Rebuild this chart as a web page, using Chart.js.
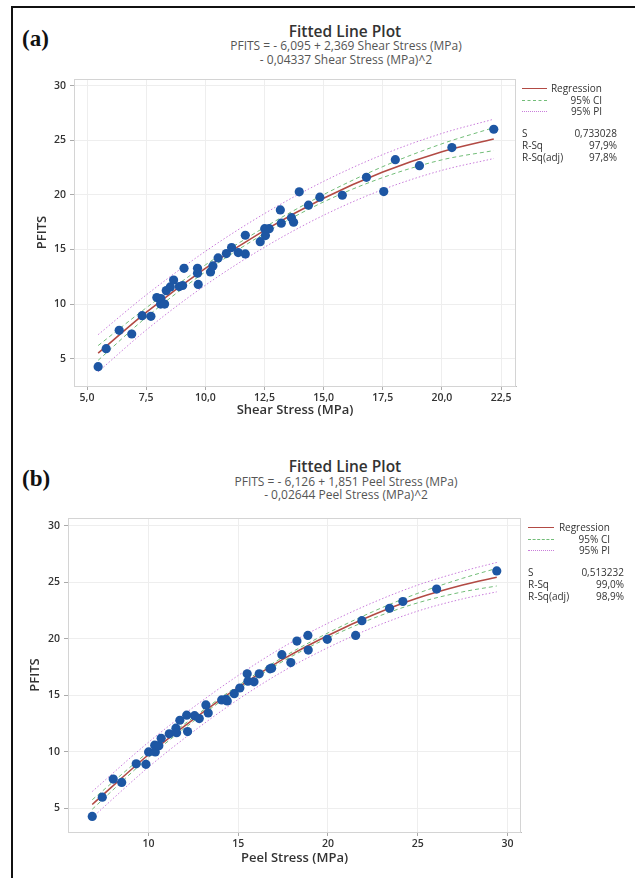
<!DOCTYPE html>
<html>
<head>
<meta charset="utf-8">
<script src="https://cdn.jsdelivr.net/npm/chart.js@4.4.1/dist/chart.umd.min.js"></script>
<style>
  body { margin: 0; background: #fff; font-family: 'Open Sans', sans-serif; }
  #page { position: relative; width: 635px; height: 878px; overflow: hidden; }
  canvas { position: absolute; left: 0; }
  .frame { position: absolute; background: #111; }
  .tag { position: absolute; left: 22px; font: bold 23px 'Liberation Serif', serif; line-height: 1; color: #111; }
  .ttl { position: absolute; width: 400px; text-align: center; color: #333; line-height: 1; white-space: nowrap; }
  .ttl.main { font-size: 15.5px; font-weight: 600; }
  .ttl.sub { font-size: 12px; color: #555; }
  .lg { position: absolute; font-size: 10px; color: #333; line-height: 1; }
  .lg .row { position: absolute; height: 12px; white-space: nowrap; }
  .lg .smp { position: absolute; top: 5px; width: 26px; height: 0; }
  .lg .txt { position: absolute; right: 0; top: 0; }
  .lg .lbl { position: absolute; left: 0; top: 0; }
</style>
</head>
<body>
<div id="page">
  <div class="frame" style="left:11px;top:6px;width:624px;height:1.5px"></div>
  <div class="frame" style="left:11px;top:6px;width:1.5px;height:872px"></div>

  <div class="tag" style="top:27px">(a)</div>
  <div class="ttl main" style="left:145px;top:24px">Fitted Line Plot</div>
  <div class="ttl sub" style="left:146px;top:40px">PFITS = - 6,095 + 2,369 Shear Stress (MPa)</div>
  <div class="ttl sub" style="left:146px;top:54px">- 0,04337 Shear Stress (MPa)^2</div>
  <canvas id="chartA" width="635" height="430" style="top:0"></canvas>
  <div id="legendA"></div>

  <div class="tag" style="top:467px">(b)</div>
  <div class="ttl main" style="left:145px;top:459px">Fitted Line Plot</div>
  <div class="ttl sub" style="left:146px;top:476px">PFITS = - 6,126 + 1,851 Peel Stress (MPa)</div>
  <div class="ttl sub" style="left:146px;top:489px">- 0,02644 Peel Stress (MPa)^2</div>
  <canvas id="chartB" width="635" height="438" style="top:440px"></canvas>
  <div id="legendB"></div>
</div>

<script>
// (a) Shear stress vs PFITS - observations
const shearX = [5.47, 5.81, 6.36, 6.89, 7.33, 7.70, 7.95, 8.12, 8.11, 8.28, 8.35, 8.52, 8.66, 8.90, 9.04,
    9.10, 9.67, 9.67, 9.70, 10.22, 10.32, 10.54, 10.89, 11.11, 11.39, 11.69, 11.69, 12.32, 12.51, 12.54,
    12.70, 13.17, 13.21, 13.64, 13.73, 13.97, 14.36, 14.84, 15.79, 16.81, 17.54, 18.03, 19.05, 20.42, 22.19];
const shearPfits = [4.27, 5.92, 7.60, 7.26, 8.94, 8.88, 10.59, 10.50, 10.00, 10.00, 11.23, 11.57, 12.20, 11.60, 11.70,
    13.27, 13.27, 12.82, 11.80, 12.94, 13.49, 14.22, 14.62, 15.17, 14.71, 14.59, 16.30, 15.71, 16.90, 16.27,
    16.90, 18.62, 17.40, 17.91, 17.49, 20.27, 19.05, 19.78, 19.96, 21.60, 20.30, 23.22, 22.67, 24.32, 26.00];

// (a) fitted curve and bands
const shearFitX = [5.47, 7.5, 10, 12.5, 15, 17.5, 20, 22.19];
const shearFit  = [5.50, 9.23, 13.26, 16.74, 19.68, 22.08, 23.94, 25.11];
const shearCiUp = [6.20, 9.65, 13.58, 17.02, 20.02, 22.58, 24.67, 26.15];
const shearCiLo = [4.85, 8.78, 12.95, 16.46, 19.35, 21.58, 23.20, 24.05];
const shearPiUp = [7.20, 10.83, 14.82, 18.28, 21.23, 23.68, 25.62, 26.92];
const shearPiLo = [3.80, 7.62, 11.72, 15.20, 18.13, 20.48, 22.24, 23.32];

// (b) Peel stress vs PFITS - observations
const peelX = [6.87, 7.43, 8.04, 8.51, 9.32, 9.86, 10.01, 10.35, 10.38, 10.58, 10.71, 11.16, 11.53, 11.57, 11.75,
    12.13, 12.18, 12.57, 12.83, 13.20, 13.33, 14.08, 14.32, 14.39, 14.78, 15.09, 15.50, 15.54, 15.88, 16.17,
    16.77, 16.86, 17.43, 17.93, 18.27, 18.88, 18.90, 19.96, 21.54, 21.89, 23.43, 24.17, 26.05, 29.40];
const peelPfits = [4.30, 6.00, 7.60, 7.30, 8.95, 8.90, 10.00, 10.60, 10.00, 10.55, 11.20, 11.60, 12.10, 11.70, 12.80,
    13.25, 11.80, 13.20, 12.95, 14.15, 13.45, 14.60, 14.65, 14.50, 15.15, 15.65, 16.90, 16.25, 16.20, 16.90,
    17.35, 17.40, 18.60, 17.90, 19.80, 20.30, 19.00, 19.95, 20.30, 21.60, 22.70, 23.30, 24.40, 26.00];

// (b) fitted curve and bands
const peelFitX = [6.87, 10, 12.5, 15, 17.5, 20, 22.5, 25, 27.5, 29.4];
const peelFit  = [5.35, 9.75, 12.87, 15.70, 18.20, 20.30, 22.10, 23.60, 24.75, 25.45];
const peelCiUp = [5.77, 10.00, 13.05, 15.86, 18.38, 20.52, 22.40, 24.02, 25.35, 26.23];
const peelCiLo = [4.93, 9.50, 12.69, 15.54, 18.02, 20.08, 21.80, 23.18, 24.15, 24.67];
const peelPiUp = [6.50, 10.85, 13.94, 16.76, 19.27, 21.38, 23.20, 24.75, 25.97, 26.75];
const peelPiLo = [4.20, 8.65, 11.80, 14.64, 17.13, 19.22, 21.00, 22.45, 23.53, 24.15];

// ticks
const pfitsTicks = [5, 10, 15, 20, 25, 30];
const shearTicks = [5, 7.5, 10, 12.5, 15, 17.5, 20, 22.5];
const shearTickLabels = ['5,0', '7,5', '10,0', '12,5', '15,0', '17,5', '20,0', '22,5'];
const peelTicks = [10, 15, 20, 25, 30];
const peelTickLabels = ['10', '15', '20', '25', '30'];

const legendNames = ['Regression', '95% CI', '95% PI'];
const statNames = ['S', 'R-Sq', 'R-Sq(adj)'];
const shearStats = ['0,733028', '97,9%', '97,8%'];
const peelStats = ['0,513232', '99,0%', '98,9%'];

const pointBlue = '#1d56a3';
const fitRed = '#b24a44';
const ciGreen = '#72bd78';
const piPurple = '#c97ddb';

function pairs(xs, ys) {
    return xs.map((x, i) => ({ x: x, y: ys[i] }));
}

// light frame round the data region
const frameBox = {
    id: 'frameBox',
    afterDraw(chart) {
        const a = chart.chartArea, ctx = chart.ctx;
        ctx.save();
        ctx.strokeStyle = '#d4d4d4';
        ctx.lineWidth = 1;
        ctx.strokeRect(a.left + 0.5, a.top + 0.5, a.right - a.left - 1, a.bottom - a.top);
        ctx.restore();
    }
};

function makeChart(id, o) {
    const line = (ys, color, width, dash) => ({
        data: pairs(o.fitX, ys), showLine: true, pointRadius: 0, borderColor: color,
        borderWidth: width, borderDash: dash, cubicInterpolationMode: 'monotone', order: 2
    });
    return new Chart(document.getElementById(id), {
        type: 'scatter',
        data: {
            datasets: [
                { data: pairs(o.x, o.y), pointRadius: 4.6, pointBackgroundColor: pointBlue,
                  pointBorderColor: pointBlue, pointBorderWidth: 0, order: 1 },
                line(o.piUp, piPurple, 1, [1.5, 2]),
                line(o.piLo, piPurple, 1, [1.5, 2]),
                line(o.ciUp, ciGreen, 1, [4, 3]),
                line(o.ciLo, ciGreen, 1, [4, 3]),
                line(o.fit, fitRed, 1.6, [])
            ]
        },
        options: {
            responsive: false,
            animation: false,
            devicePixelRatio: 1,
            layout: { padding: o.padding },
            plugins: { legend: { display: false }, tooltip: { enabled: false } },
            scales: {
                x: {
                    type: 'linear', min: o.xMin, max: o.xMax,
                    afterBuildTicks: s => { s.ticks = o.xTicks.map(v => ({ value: v })); },
                    afterFit: s => { s.height = o.xAxisH; },
                    ticks: {
                        padding: 2, color: '#333', font: { family: 'Open Sans', size: 10.5, weight: '600' },
                        callback: (v, i) => o.xLabels[i]
                    },
                    grid: { color: '#eeeeee', tickColor: '#aaaaaa', tickLength: 4 },
                    border: { color: '#bbbbbb' },
                    title: { display: true, text: o.xTitle, color: '#333',
                             font: { family: 'Open Sans', size: 13, weight: '600' }, padding: { bottom: 12 } }
                },
                y: {
                    type: 'linear', min: o.yMin, max: o.yMax,
                    afterBuildTicks: s => { s.ticks = pfitsTicks.map(v => ({ value: v })); },
                    afterFit: s => { s.width = o.yAxisW; },
                    ticks: { padding: 4, color: '#333', font: { family: 'Open Sans', size: 10.5, weight: '600' } },
                    grid: { color: '#eeeeee', tickColor: '#aaaaaa', tickLength: 4 },
                    border: { color: '#bbbbbb' },
                    title: { display: true, text: 'PFITS', color: '#333',
                             font: { family: 'Open Sans', size: 13, weight: '600' }, padding: { top: o.yTitlePad } }
                }
            }
        },
        plugins: [frameBox]
    });
}

function makeLegend(id, left, top, sampleW, textRight, valueRight, stats) {
    const el = document.getElementById(id);
    el.className = 'lg';
    el.style.left = left + 'px';
    el.style.top = top + 'px';
    const styles = ['1.6px solid ' + fitRed, '1.2px dashed ' + ciGreen, '1.2px dotted ' + piPurple];
    let html = '';
    legendNames.forEach((n, i) => {
        html += '<div class="row" style="top:' + (i * 11.7) + 'px;width:' + textRight + 'px">' +
            '<div class="smp" style="width:' + sampleW + 'px;border-top:' + styles[i] + '"></div>' +
            '<div class="txt">' + n + '</div></div>';
    });
    statNames.forEach((n, i) => {
        html += '<div class="row" style="top:' + (45 + i * 12) + 'px;width:' + valueRight + 'px">' +
            '<div class="lbl">' + n + '</div><div class="txt">' + stats[i] + '</div></div>';
    });
    el.innerHTML = html;
}

makeChart('chartA', {
    x: shearX, y: shearPfits, fitX: shearFitX, fit: shearFit,
    ciUp: shearCiUp, ciLo: shearCiLo, piUp: shearPiUp, piLo: shearPiLo,
    xMin: 4.45, xMax: 23.13, yMin: 2.5, yMax: 30.6,
    xTicks: shearTicks, xLabels: shearTickLabels, xTitle: 'Shear Stress (MPa)',
    padding: { top: 79, right: 119, left: 0, bottom: 0 }, yAxisW: 74, xAxisH: 44, yTitlePad: 34
});

makeChart('chartB', {
    x: peelX, y: peelPfits, fitX: peelFitX, fit: peelFit,
    ciUp: peelCiUp, ciLo: peelCiLo, piUp: peelPiUp, piLo: peelPiLo,
    xMin: 5.52, xMax: 30.75, yMin: 2.92, yMax: 30.68,
    xTicks: peelTicks, xLabels: peelTickLabels, xTitle: 'Peel Stress (MPa)',
    padding: { top: 78, right: 114, left: 0, bottom: 0 }, yAxisW: 68, xAxisH: 46, yTitlePad: 27
});

makeLegend('legendA', 522, 83, 25, 80, 95, shearStats);
makeLegend('legendB', 528, 522, 26, 82, 96, peelStats);
</script>
</body>
</html>
